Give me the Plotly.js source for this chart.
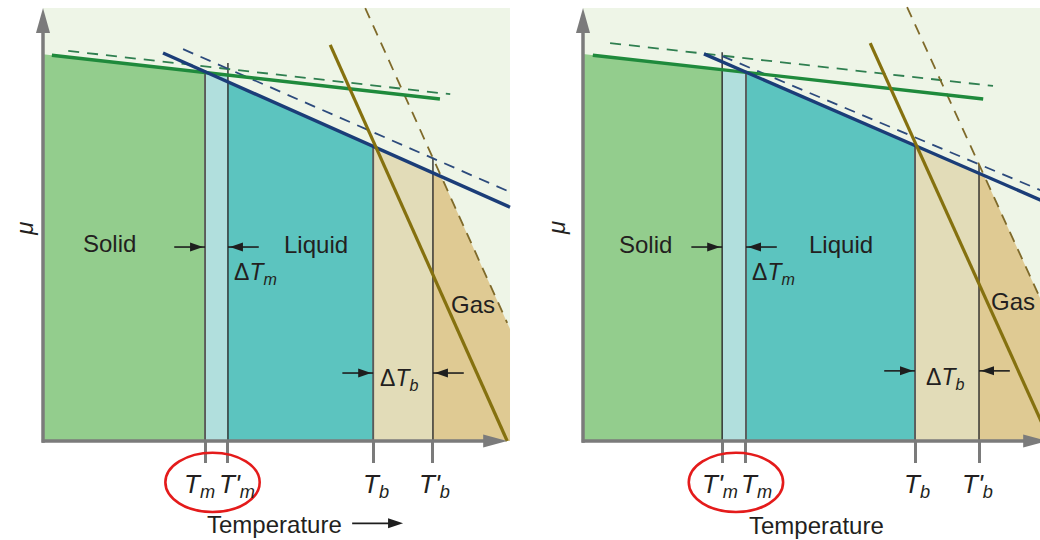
<!DOCTYPE html>
<html>
<head>
<meta charset="utf-8">
<script src="https://cdn.plot.ly/plotly-3.0.1.min.js"></script>
<style>
  html, body { margin: 0; padding: 0; background: #fff; }
  #chart { width: 1040px; height: 540px; }
</style>
</head>
<body>
<div id="chart"></div>
<script>
// Chemical potential μ against temperature for solid, liquid and gas.
// Solid lines: pure substance; dashed lines: the shifted phase curves.
// Left panel: melting point raised; right panel: melting point lowered.

// Transition temperatures, order: Tm, Tm', Tb, Tb'
const tickLabels = [
  '<i>T</i><sub><i>m</i></sub>',
  "<i>T'</i><sub><i>m</i></sub>",
  '<i>T</i><sub><i>b</i></sub>',
  "<i>T'</i><sub><i>b</i></sub>"
];
const leftTemps  = [34.7, 39.6, 70.7, 83.5];
const rightTemps = [34.9, 29.8, 71.1, 84.8];
// μ where each vertical marker line ends at the top
const leftMarkTop  = [85.5, 87.3, 68.1, 65.4];
const rightMarkTop = [85.0, 89.8, 68.4, 64.0];

// μ(T) lines, each from two end points (T, μ)
const leftSolidT = [1.9, 85.0],      leftSolidMu = [89.1, 79.0];
const leftSolidDashT = [5.4, 87.2],  leftSolidDashMu = [90.1, 80.1];
const leftLiquidT = [25.7, 100],     leftLiquidMu = [89.6, 54.0];
const leftLiquidDashT = [30.0, 100], leftLiquidDashMu = [90.5, 57.5];
const leftGasT = [61.5, 99.4],       leftGasMu = [91.5, 0];
const leftGasDashT = [69.0, 99.4],   leftGasDashMu = [100, 27.3];

const rightSolidT = [2.1, 85.7],      rightSolidMu = [89.1, 79.0];
const rightSolidDashT = [5.8, 87.8],  rightSolidDashMu = [91.9, 82.0];
const rightLiquidT = [25.9, 100],     rightLiquidMu = [89.4, 54.7];
const rightLiquidDashT = [29.8, 100], rightLiquidDashMu = [88.9, 57.0];
const rightGasT = [61.5, 100],        rightGasMu = [91.9, 0];
const rightGasDashT = [69.4, 100],    rightGasDashMu = [100.2, 28.0];

// ---- styling ----
const C = {
  bg: '#eef5e7', solid: '#93cd8d', band: '#b1dfdd', teal: '#5cc4bf',
  beige: '#e2dcb8', tan: '#dfca93',
  green: '#1f8a3c', navy: '#1b3d78', olive: '#85710f',
  greenDash: '#2f7f50', navyDash: '#2c4a7c', oliveDash: '#7f6a2a',
  axis: '#7b7b7b', text: '#231f20', arrow: '#1e1e1e', red: '#e41b1b'
};
const FONT = 'Liberation Sans, Arial, Helvetica, sans-serif';
const MU_RANGE = [-22.86, 101.85];

const panels = [
  {
    xa: 'x', ya: 'y', domain: [0, 0.5], range: [-9.208, 102.14],
    temps: leftTemps, markTop: leftMarkTop,
    solid: [leftSolidT, leftSolidMu], solidDash: [leftSolidDashT, leftSolidDashMu],
    liquid: [leftLiquidT, leftLiquidMu], liquidDash: [leftLiquidDashT, leftLiquidDashMu],
    gas: [leftGasT, leftGasMu], gasDash: [leftGasDashT, leftGasDashMu],
    labelShift: [-6, 9, 3, 2],
    ellipseShift: -0.85,
    text: { solid: [14.3, 45.7], liquid: [58.5, 45.3], gas: [92.1, 31.6],
            dTm: [45.4, 38.6], dTb: [76.2, 14.1], arrowMuM: 44.8, arrowMuB: 15.7,
            mu: [-3.85, 49.0], temp: [49.5, -19.2] },
    tempArrow: [66.2, 77.1, -19.0]
  },
  {
    xa: 'x2', ya: 'y2', domain: [0.5, 1], range: [-13.49, 97.86],
    temps: rightTemps, markTop: rightMarkTop,
    solid: [rightSolidT, rightSolidMu], solidDash: [rightSolidDashT, rightSolidDashMu],
    liquid: [rightLiquidT, rightLiquidMu], liquidDash: [rightLiquidDashT, rightLiquidDashMu],
    gas: [rightGasT, rightGasMu], gasDash: [rightGasDashT, rightGasDashMu],
    labelShift: [11, -2, 2, -2],
    ellipseShift: 0.4,
    text: { solid: [13.3, 45.3], liquid: [55.2, 45.3], gas: [92.1, 32.3],
            dTm: [40.7, 38.6], dTb: [77.5, 14.5], arrowMuM: 44.8, arrowMuB: 16.2,
            mu: [-5.57, 49.2], temp: [50.1, -19.4] },
    tempArrow: null
  }
];

function lineAt(l, t) {
  const [T, M] = l;
  return M[0] + (M[1] - M[0]) * (t - T[0]) / (T[1] - T[0]);
}
function crossing(a, b) {
  const sa = (a[1][1] - a[1][0]) / (a[0][1] - a[0][0]);
  const sb = (b[1][1] - b[1][0]) / (b[0][1] - b[0][0]);
  const ia = a[1][0] - sa * a[0][0];
  const ib = b[1][0] - sb * b[0][0];
  return (ib - ia) / (sa - sb);
}

const traces = [];
const shapes = [];
const annotations = [];
const layout = {
  width: 1040, height: 540,
  margin: { l: 0, r: 0, t: 0, b: 0 },
  paper_bgcolor: '#ffffff', plot_bgcolor: 'rgba(0,0,0,0)',
  showlegend: false, hovermode: false,
  font: { family: FONT, color: C.text }
};

panels.forEach((p, i) => {
  const [Tm, TmP, Tb, TbP] = p.temps;
  const b0 = Math.min(Tm, TmP), b1 = Math.max(Tm, TmP);
  const ax = { xaxis: p.xa, yaxis: p.ya, hoverinfo: 'skip' };

  // axes
  const xKey = i === 0 ? 'xaxis' : 'xaxis2';
  const yKey = i === 0 ? 'yaxis' : 'yaxis2';
  const axisPos = (0 - MU_RANGE[0]) / (MU_RANGE[1] - MU_RANGE[0]);
  layout[xKey] = {
    domain: p.domain, range: p.range, anchor: 'free', position: axisPos,
    showgrid: false, zeroline: false, showline: false,
    ticks: 'outside', tickmode: 'array', tickvals: p.temps,
    ticklen: 21, tickwidth: 3, tickcolor: C.axis,
    showticklabels: false, fixedrange: true
  };
  layout[yKey] = {
    domain: [0, 1], range: MU_RANGE, visible: false, fixedrange: true,
    anchor: p.xa
  };

  // plot background
  shapes.push({ type: 'rect', xref: p.xa, yref: p.ya, x0: 0, x1: 100, y0: 0, y1: 100,
    fillcolor: C.bg, line: { width: 0 }, layer: 'below' });

  // phase regions
  const region = (x0, x1, line, color) => {
    traces.push(Object.assign({
      type: 'scatter', mode: 'lines', fill: 'toself', fillcolor: color,
      line: { width: 0 },
      x: [x0, x0, x1, x1], y: [0, lineAt(line, x0), lineAt(line, x1), 0]
    }, ax));
  };
  region(0, b0, p.solid, C.solid);
  region(b0, b1, p.solid, C.band);
  region(b1, Tb, p.liquid, C.teal);
  region(Tb, TbP, p.liquid, C.beige);
  const tc = crossing(p.liquid, p.gasDash);
  traces.push(Object.assign({
    type: 'scatter', mode: 'lines', fill: 'toself', fillcolor: C.tan, line: { width: 0 },
    x: [TbP, TbP, tc, 100, 100],
    y: [0, lineAt(p.liquid, TbP), lineAt(p.liquid, tc), lineAt(p.gasDash, 100), 0]
  }, ax));

  // vertical markers at each transition temperature
  p.temps.forEach((t, k) => {
    const primed = (k % 2) === 1;
    traces.push(Object.assign({
      type: 'scatter', mode: 'lines', x: [t, t], y: [0, p.markTop[k]],
      line: { color: primed ? '#2a2a2a' : '#5a5a5a', width: primed ? 1.4 : 1.9 }
    }, ax));
  });

  // μ(T) lines
  const seg = (l, color, width, dash) => {
    traces.push(Object.assign({
      type: 'scatter', mode: 'lines', x: l[0], y: l[1],
      line: { color, width, dash: dash || 'solid' }
    }, ax));
  };
  seg(p.solidDash, C.greenDash, 1.8, '11px,8px');
  seg(p.liquidDash, C.navyDash, 1.8, '11px,8px');
  seg(p.gasDash, C.oliveDash, 1.8, '11px,8px');
  seg(p.solid, C.green, 3.4);
  seg(p.liquid, C.navy, 3.4);
  seg(p.gas, C.olive, 3.2);

  // axis lines with arrow heads
  traces.push(Object.assign({ type: 'scatter', mode: 'lines', x: [-0.25, 96], y: [0, 0],
    line: { color: C.axis, width: 3.5 } }, ax));
  traces.push(Object.assign({ type: 'scatter', mode: 'lines', x: [0, 0], y: [-0.4, 95],
    line: { color: C.axis, width: 3.5 } }, ax));
  const head = (x, y, path, color) => shapes.push({ type: 'path', xref: p.xa, yref: p.ya,
    xsizemode: 'pixel', ysizemode: 'pixel', xanchor: x, yanchor: y, path,
    fillcolor: color, line: { width: 0 }, layer: 'above' });
  head(0, 100, 'M-7,-25L7,-25L0,0Z', C.axis);
  head(99.4, 0, 'M-24,-6.5L-24,6.5L0,0Z', C.axis);

  // tick labels
  p.temps.forEach((t, k) => {
    annotations.push({ xref: p.xa, yref: p.ya, x: t, y: -10.2, xshift: p.labelShift[k],
      text: tickLabels[k], showarrow: false, font: { size: 26, family: FONT, color: C.text } });
  });

  // circled label pair
  const mid = (Tm + TmP) / 2 + p.ellipseShift;
  shapes.push({ type: 'circle', xref: p.xa, yref: p.ya,
    x0: mid - 10.1, x1: mid + 10.1, y0: -16.4, y1: -2.7,
    line: { color: C.red, width: 2.6 }, fillcolor: 'rgba(0,0,0,0)', layer: 'above' });

  // phase names and shift labels
  const t = p.text;
  const label = (pos, text, size) => annotations.push({ xref: p.xa, yref: p.ya,
    x: pos[0], y: pos[1], text, showarrow: false, font: { size, family: FONT, color: C.text } });
  label(t.solid, 'Solid', 24);
  label(t.liquid, 'Liquid', 24);
  label(t.gas, 'Gas', 24);
  label(t.dTm, 'Δ<i>T</i><sub><i>m</i></sub>', 23);
  label(t.dTb, 'Δ<i>T</i><sub><i>b</i></sub>', 23);
  label(t.temp, 'Temperature', 24);
  annotations.push({ xref: p.xa, yref: p.ya, x: t.mu[0], y: t.mu[1], text: '<i>μ</i>',
    textangle: -90, showarrow: false, font: { size: 24, family: FONT, color: C.text } });

  // arrows pointing at the transition lines (shaft trace + filled head)
  const pointer = (tail, tip, mu) => {
    const dir = tip > tail ? 1 : -1;
    traces.push(Object.assign({ type: 'scatter', mode: 'lines', x: [tail, tip], y: [mu, mu],
      line: { color: C.arrow, width: 1.6 } }, ax));
    const b = -15 * dir, e = -2 * dir;
    head(tip, mu, `M${b},-4.5L${b},4.5L${e},0Z`, C.arrow);
  };
  pointer(b0 - 6.6, b0, t.arrowMuM);
  pointer(b1 + 6.6, b1, t.arrowMuM);
  pointer(Tb - 6.6, Tb, t.arrowMuB);
  pointer(TbP + 6.6, TbP, t.arrowMuB);

  if (p.tempArrow) {
    const [a0, a1, am] = p.tempArrow;
    traces.push(Object.assign({ type: 'scatter', mode: 'lines', x: [a0, a1 - 2], y: [am, am],
      line: { color: C.arrow, width: 1.8 } }, ax));
    head(a1, am, 'M-15,-5L-15,5L0,0Z', C.arrow);
  }
});

layout.shapes = shapes;
layout.annotations = annotations;

Plotly.newPlot('chart', traces, layout, { staticPlot: true, displayModeBar: false });
</script>
</body>
</html>
